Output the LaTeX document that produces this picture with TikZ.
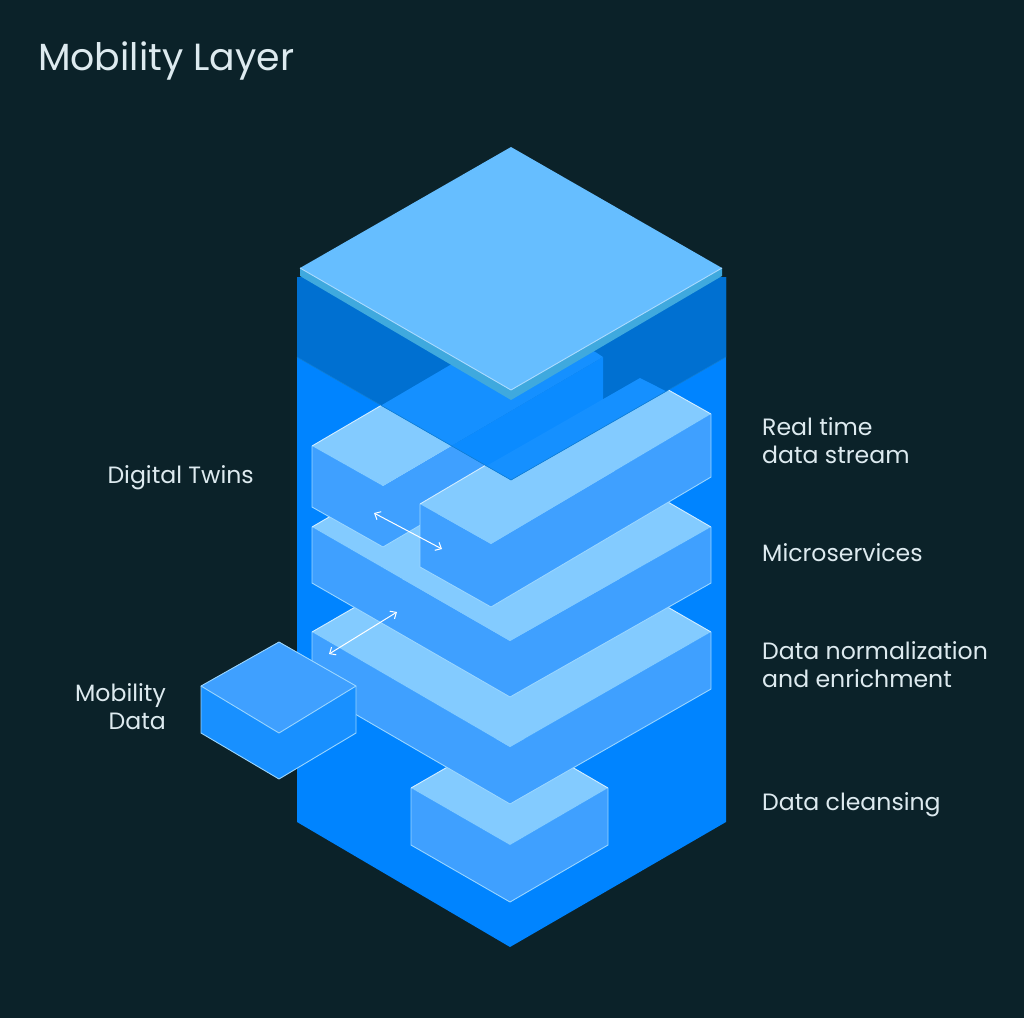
\documentclass[tikz,border=0pt]{standalone}
\usepackage{fontspec}
\setmainfont{Poppins}
\usetikzlibrary{arrows.meta}

\definecolor{bgdark}{HTML}{0B2229}
\definecolor{towerblue}{HTML}{0084FF}
\definecolor{banddark}{HTML}{0070D1}
\definecolor{topface}{HTML}{83CBFF}
\definecolor{sideface}{HTML}{3FA0FF}
\definecolor{boxside}{HTML}{1890FF}
\definecolor{bandtop}{HTML}{1590FF}
\definecolor{bandside}{HTML}{0B8BFF}
\definecolor{lidtop}{HTML}{66BEFF}
\definecolor{lidside}{HTML}{3FA9DE}
\definecolor{edgepale}{HTML}{9AD6FF}
\definecolor{labeltext}{HTML}{DDEAEF}

\begin{document}
\begin{tikzpicture}[
    x=1pt, y=-1pt,
    % Styles
    top/.style={% Top of a block
        fill=topface,
        },
    side/.style={% Sides of a block
        fill=sideface,
        },
    edge/.style={% Thin outlines
        draw=edgepale,
        line width=0.9pt,
        line join=round,
        },
    backedge/.style={% Brighter outlines at the back of a top
        edge,
        draw=edgepale!45!white,
        },
    label/.style={% Texts beside the tower
        text=labeltext,
        font=\fontsize{23.6}{28}\selectfont,
        inner sep=0pt,
        },
    ArrowW/.style={% White double arrows
        {Straight Barb[length=5pt,width=9pt]}-{Straight Barb[length=5pt,width=9pt]},
        draw=white,
        line width=1pt,
        },
    ]
% Macro for one block: left, front, right and back corner of the top, then height
\newcommand{\IsoBlock}[5]{
    \path[side] (#1) -- (#2) -- (#3) -- ([shift={(0,#5)}]#3) -- ([shift={(0,#5)}]#2) -- ([shift={(0,#5)}]#1) -- cycle;
    \path[top] (#1) -- (#2) -- (#3) -- (#4) -- cycle;
    \draw[edge] (#3) -- ([shift={(0,#5)}]#3) -- ([shift={(0,#5)}]#2) -- ([shift={(0,#5)}]#1) -- (#1);
    \draw[backedge] (#1) -- (#4) -- (#3);
}
\fill[bgdark] (0,0) rectangle (1024,1018);
\useasboundingbox (0,0) rectangle (1024,1018);

% Tower
\fill[towerblue] (297,277) -- (726,277) -- (726,822) -- (510,947) -- (297,822) -- cycle;

% Layers from the bottom up
\IsoBlock{411,788}{510,845}{608,788}{510,731}{57}
\IsoBlock{312,632}{510,747}{711,632}{511,517}{57}
\IsoBlock{312,527}{510,641}{711,527}{511,411}{56}
\IsoBlock{312,446}{383,486}{603,357}{532,317}{61}
\IsoBlock{420,504}{491,544}{711,414}{640,374}{63}

% Mobility data box
\path[fill=boxside] (201,686) -- (279,733) -- (356,686) -- (356,733) -- (279,779) -- (201,733) -- cycle;
\draw[edge, fill=sideface] (279,642) -- (356,686) -- (279,733) -- (201,686) -- cycle;
\draw[edge] (201,686) -- (201,733) -- (279,779) -- (356,733) -- (356,686);

% Arrows
\coordinate (twinA) at (374,513);
\coordinate (twinB) at (442,549);
\coordinate (dataA) at (329,654);
\coordinate (dataB) at (397,612);
\draw[ArrowW] (twinA) -- (twinB);
\draw[ArrowW] (dataA) -- (dataB);

% Dark band round the top of the tower
\fill[banddark] (297,277) -- (726,277) -- (726,357) -- (511,480) -- (297,357) -- cycle;
\begin{scope}
    \clip (297,277) -- (726,277) -- (726,357) -- (511,480) -- (297,357) -- cycle;
    \fill[bandside] (383,486) -- (603,357) -- (603,418) -- (383,548) -- cycle;
    \fill[bandtop] (312,446) -- (383,486) -- (603,357) -- (597,353) -- (532,317) -- cycle;
    \fill[bandtop] (420,504) -- (491,544) -- (711,414) -- (640,378) -- cycle;
\end{scope}
\draw[banddark!75!lidside, line width=0.6pt] (297,357) -- (511,480) -- (726,357);

% Lid
\fill[lidside] (300,268) -- (511,390) -- (722,268) -- (722,276) -- (511,400) -- (300,276) -- cycle;
\fill[lidtop] (511,147) -- (722,268) -- (511,390) -- (300,268) -- cycle;
\draw[edge, draw=lidtop!55!white] (300,268) -- (511,390) -- (722,268);

% Texts
\node[label, font=\fontsize{37.8}{44}\selectfont, anchor=base west] (title) at (38,70) {Mobility Layer};
\node[label, anchor=base east] (twins) at (254,483) {Digital Twins};
\node[label, align=right, anchor=east] (mobility) at (166,707) {Mobility\\Data};
\node[label, anchor=west, align=left] (stream) at (762,441) {Real time\\data stream};
\node[label, anchor=base west] (micro) at (762,561) {Microservices};
\node[label, anchor=west, align=left] (normal) at (762,665) {Data normalization\\and enrichment};
\node[label, anchor=base west] (cleansing) at (762,810) {Data cleansing};
\end{tikzpicture}
\end{document}
